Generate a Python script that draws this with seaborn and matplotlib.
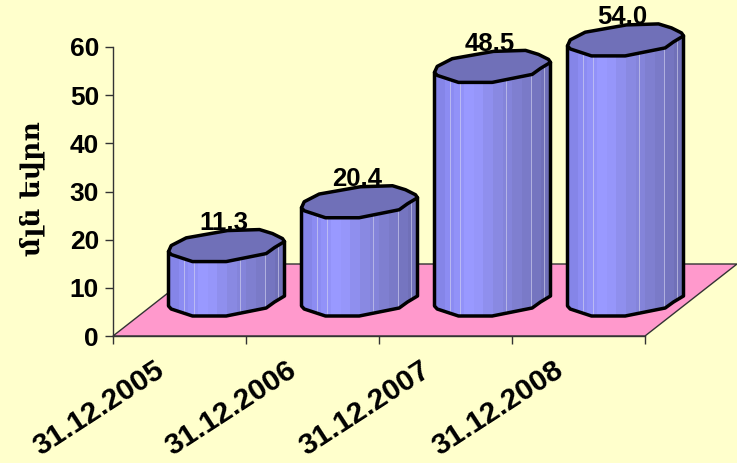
import numpy as np
import matplotlib
matplotlib.use("Agg")
import matplotlib.pyplot as plt
from matplotlib.colors import to_rgb
from matplotlib.patches import Polygon
from matplotlib.transforms import ScaledTranslation
import seaborn as sns

dates = ["31.12.2005", "31.12.2006", "31.12.2007", "31.12.2008"]
values = [11.3, 20.4, 48.5, 54.0]
value_labels = ["11.3", "20.4", "48.5", "54.0"]
y_ticks = [0, 10, 20, 30, 40, 50, 60]
y_title = "մլն եվրո"

BG = "#FFFFCC"; FLOOR = "#FF99CC"; TOP = "#7070B8"
BANDS = ["#8585E8", "#8C8CF2", "#9292F8", "#9999FF", "#9696FA", "#8F8FEE", "#8989E2",
         "#8484DA", "#7F7FD0", "#7A7AC8", "#7575C0", "#7070B8"]
LINES = [.135, .22, .62, .835, .94]
# lid outline: fraction of bar width, pixels above the front edge
LID_U = np.array([0, 2.7, 17.7, 59, 91, 104, 114, 116, 106, 97.7, 57.7, 24, 2.7]) / 116
LID_V = np.array([10, 16, 23.7, 31, 32, 28, 23, 20, 14, 8, 0, 0, 7.0])
FRONT = [0, 12, 11, 10, 9, 8, 7]  # lid vertices forming the lower front outline

W, H = 737, 463
PX_Y = 289 / 60      # pixels per value unit
PX_X = 133           # pixels per category
BASE = 20 / PX_Y     # bar foot above the floor's front edge
SHIFT = 47 / PX_X

sns.set_theme(style="white", rc={"figure.facecolor": BG, "axes.facecolor": BG})
plt.rcParams["font.family"] = ["Liberation Sans", "DejaVu Sans"]
fig = plt.figure(figsize=(W / 100, H / 100), dpi=100, facecolor=BG)
ax = fig.add_axes([113 / W, 1 - 336 / H, 532 / W, 289 / H])

sns.barplot(x=dates, y=values, bottom=BASE, width=116 / PX_X, ax=ax, color=TOP, zorder=3)
ax.set_xlim(-0.5, 3.5)
ax.set_ylim(0, 60)

# floor
fh = 72 / PX_Y
floor = Polygon([(-0.5, 0), (3.5, 0), (3.5 + 92 / PX_X, fh), (-0.5 + 92 / PX_X, fh)], closed=True,
                facecolor=FLOOR, edgecolor="#333333", lw=1.0, clip_on=False, zorder=1)
ax.add_patch(floor)

cmap = np.array([[to_rgb(c) for c in BANDS]])
bars = [b for b in ax.patches if b is not floor]
for bar, txt in zip(bars, value_labels):
    x0 = bar.get_x() + SHIFT
    w = bar.get_width()
    y0 = bar.get_y()
    top = y0 + bar.get_height()
    bar.set_visible(False)
    lx = x0 + LID_U * w
    ly = top + LID_V / PX_Y
    # body silhouette
    fx = lx[FRONT]; fy = ly[FRONT] - top + y0
    body = np.vstack([np.c_[fx, fy], [[x0 + w, top + LID_V[7] / PX_Y]], [[x0, top + LID_V[0] / PX_Y]]])
    clip = Polygon(body, closed=True, transform=ax.transData, facecolor="none",
                   edgecolor="black", lw=2.5, clip_on=False, zorder=5, joinstyle="round")
    im = ax.imshow(cmap, extent=(x0, x0 + w, y0 - 1, top + 8), aspect="auto",
                   interpolation="nearest", zorder=4)
    im.set_clip_box(fig.bbox)
    im.set_clip_path(clip)
    for f in LINES:
        ln, = ax.plot([x0 + f * w] * 2, [y0 - 1, top + 8], color="#D8D8F0", lw=0.7, alpha=.6, zorder=4.2)
        ln.set_clip_box(fig.bbox)
        ln.set_clip_path(clip)
    ax.add_patch(clip)
    ax.add_patch(Polygon(np.c_[lx, ly], closed=True, facecolor=TOP, edgecolor="black", lw=2.5,
                         clip_on=False, zorder=6, joinstyle="round"))
    ax.annotate(txt, (x0 + w / 2, top), xytext=(-2, 28), textcoords="offset points",
                ha="center", va="center", fontsize=18.5, fontweight="bold", color="black", zorder=5.5,
                annotation_clip=False)

ax.set_xlim(-0.5, 3.5)
ax.set_ylim(0, 60)

for s in ("top", "right"):
    ax.spines[s].set_visible(False)
for s in ("left", "bottom"):
    ax.spines[s].set_color("#333333")
    ax.spines[s].set_linewidth(1.0)
    ax.spines[s].set_zorder(2)

ax.set_yticks(y_ticks)
ax.set_yticklabels([str(v) for v in y_ticks], fontsize=19, fontweight="bold", color="black")
ax.tick_params(axis="y", left=True, length=6, width=1, color="#333333", pad=4)

ax.set_xticks(range(len(dates)))
ax.set_xticklabels(dates, fontsize=21.5, fontweight="bold", color="black", rotation=33,
                   ha="right", va="top", rotation_mode="anchor")
ax.tick_params(axis="x", bottom=False, pad=8)
ax.set_xticks(np.arange(-0.5, 3.6, 1), minor=True)
ax.tick_params(axis="x", which="minor", bottom=True, length=6, width=1, color="#333333")
nudge = ScaledTranslation(-26 / 100, 0, fig.dpi_scale_trans)
for lab in ax.get_xticklabels():
    lab.set_transform(lab.get_transform() + nudge)

fig.text(32 / W, 1 - 189 / H, y_title, rotation=90, ha="center", va="center",
         fontsize=19, fontweight="bold", family=["DejaVu Serif", "DejaVu Sans"], color="black")

fig.savefig("out.png", dpi=100, facecolor=BG)
